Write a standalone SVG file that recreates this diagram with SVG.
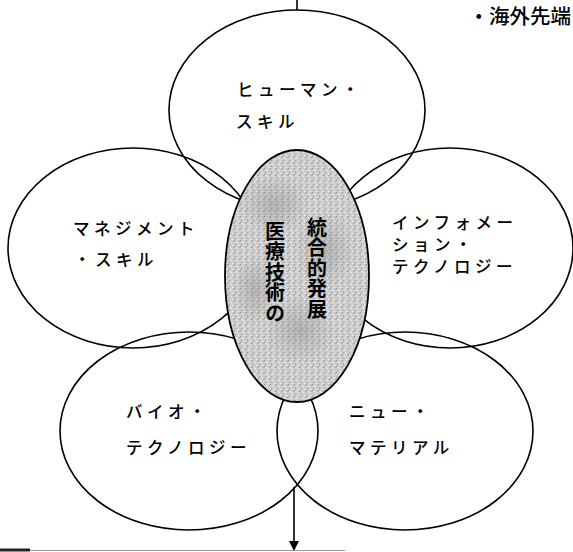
<svg xmlns="http://www.w3.org/2000/svg" width="573" height="552" viewBox="0 0 573 552">
<style>
.ring{fill:none;stroke:#000;stroke-width:1.6}
.lbl{font-family:"Noto Sans CJK JP","Noto Sans CJK SC",sans-serif;font-size:16.5px;font-weight:500;letter-spacing:4.5px;fill:#000}
.core{font-family:"Noto Sans CJK JP","Noto Sans CJK SC",sans-serif;font-size:20px;font-weight:bold;fill:#000;writing-mode:vertical-rl;letter-spacing:0.5px}
.ln{stroke:#000;stroke-width:1.6;fill:none}
</style>
<defs>
<pattern id="ht" width="6" height="6" patternUnits="userSpaceOnUse">
<rect width="6" height="6" fill="#cdcdcd"/>
<rect x="0" y="0" width="1" height="1" fill="#8a8a8a"/>
<rect x="3" y="2" width="1" height="1" fill="#f2f2f2"/>
<rect x="1" y="4" width="1" height="1" fill="#9a9a9a"/>
<rect x="4" y="5" width="1" height="1" fill="#ffffff"/>
<rect x="5" y="1" width="1" height="1" fill="#a0a0a0"/>
<rect x="2" y="1" width="1" height="1" fill="#e8e8e8"/>
</pattern>
<radialGradient id="blob" cx="0.5" cy="0.5" r="0.5">
<stop offset="0" stop-color="#8c8c8c" stop-opacity="0.45"/>
<stop offset="1" stop-color="#8c8c8c" stop-opacity="0"/>
</radialGradient>
<marker id="ah" viewBox="0 0 10 10" refX="10" refY="5" markerWidth="10" markerHeight="10" markerUnits="userSpaceOnUse" orient="auto">
<path d="M0,0 L10,5 L0,10 z" fill="#000"/>
</marker>
</defs>

<text x="571" y="24" font-family="'Noto Sans CJK JP','Noto Sans CJK SC',sans-serif" font-size="20.5" font-weight="500" text-anchor="end" fill="#000">・海外先端</text>

<g id="connectors">
<line class="ln" x1="297" y1="0" x2="297" y2="10"/>
<line class="ln" x1="294" y1="487" x2="294" y2="551" marker-end="url(#ah)"/>
<line x1="0" y1="550.5" x2="345" y2="550.5" stroke="#9a9a9a" stroke-width="1.2"/>
<rect x="0" y="548.5" width="30" height="3" fill="#222"/>
</g>

<g id="human">
<ellipse class="ring" cx="297" cy="110" rx="128" ry="100"/>
<text class="lbl" x="237" y="96">ヒューマン・</text>
<text class="lbl" x="236" y="128">スキル</text>
</g>

<g id="management">
<ellipse class="ring" cx="133" cy="248" rx="125" ry="100"/>
<text class="lbl" x="73" y="235">マネジメント</text>
<text class="lbl" x="74" y="266">・スキル</text>
</g>

<g id="information">
<ellipse class="ring" cx="450" cy="248" rx="123" ry="100"/>
<text class="lbl" x="392" y="229">インフォメー</text>
<text class="lbl" x="392" y="251">ション・</text>
<text class="lbl" x="392" y="273">テクノロジー</text>
</g>

<g id="bio">
<ellipse class="ring" cx="189" cy="431" rx="129" ry="99"/>
<text class="lbl" x="126" y="418">バイオ・</text>
<text class="lbl" x="126" y="454">テクノロジー</text>
</g>

<g id="newmaterial">
<ellipse class="ring" cx="405" cy="431" rx="128" ry="99"/>
<text class="lbl" x="349" y="418">ニュー・</text>
<text class="lbl" x="349" y="454">マテリアル</text>
</g>

<g id="core">
<ellipse cx="297" cy="276" rx="72" ry="126" fill="url(#ht)" stroke="#000" stroke-width="1.8"/>
<ellipse cx="275" cy="205" rx="35" ry="30" fill="url(#blob)"/>
<ellipse cx="325" cy="250" rx="30" ry="40" fill="url(#blob)"/>
<ellipse cx="300" cy="330" rx="35" ry="35" fill="url(#blob)"/>
<ellipse cx="255" cy="290" rx="22" ry="35" fill="url(#blob)"/>
<text class="core" x="317" y="217">統合的発展</text>
<text class="core" x="275" y="221">医療技術の</text>
</g>
</svg>
